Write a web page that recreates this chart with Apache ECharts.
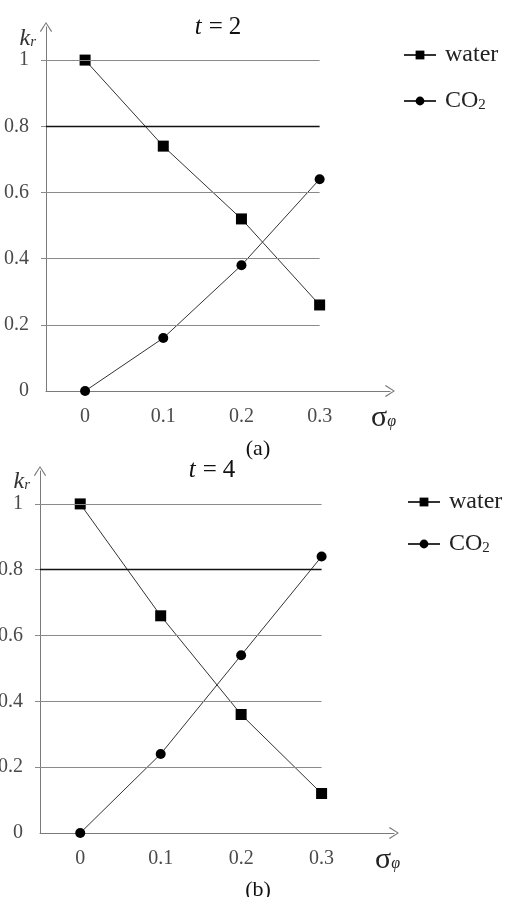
<!DOCTYPE html>
<html>
<head>
<meta charset="utf-8">
<script src="https://cdn.jsdelivr.net/npm/echarts@6/dist/echarts.min.js"></script>
<style>
  html, body { margin: 0; padding: 0; background: #fff; }
  #chart { width: 511px; height: 897px; }
</style>
</head>
<body>
<div id="chart"></div>
<script>
// x positions (sigma_phi) and tick labels
const xValues = [0, 0.1, 0.2, 0.3];
const yTicks = [0, 0.2, 0.4, 0.6, 0.8, 1];

// (a) t = 2
const waterA = [1, 0.74, 0.52, 0.26];
const co2A = [0, 0.16, 0.38, 0.64];
// (b) t = 4
const waterB = [1, 0.66, 0.36, 0.12];
const co2B = [0, 0.24, 0.54, 0.84];

const seriesNames = ['water', 'CO2'];
const panelTitles = ['2', '4'];
const panelCaptions = ['(a)', '(b)'];

const serif = 'Liberation Serif';
const xMin = -0.05, xMax = 0.39, yMax = 1.1;
const chevron = 'path://M6,0 L12,9 L11,9.8 L6,1.8 L1,9.8 L0,9 Z';

const toPoints = (ys) => xValues.map((x, i) => [x, ys[i]]);

const gridLines = yTicks.filter((v) => v > 0).map((v) => [
  { coord: [xMin, v], lineStyle: { color: v === 0.8 ? '#111' : '#8a8a8a', width: v === 0.8 ? 1.3 : 1 } },
  { coord: [xValues[xValues.length - 1], v] },
]);

const makeX = (gridIndex) => ({
  type: 'value', gridIndex, min: xMin, max: xMax,
  splitLine: { show: false },
  axisTick: { show: false },
  axisLine: { onZero: false, symbol: ['none', chevron], symbolSize: [13, 10], lineStyle: { color: '#7a7a7a', width: 1 } },
  axisLabel: {
    customValues: xValues, margin: 16, color: '#4a4a4a',
    fontFamily: serif, fontSize: 20, formatter: (v) => String(v),
  },
  name: '{s|σ}{p|φ}', nameLocation: 'end', nameGap: 6,
  nameTextStyle: {
    align: 'right', verticalAlign: 'top', padding: [15, 0, 0, 0],
    rich: {
      s: { fontFamily: serif, fontSize: 30, color: '#222', lineHeight: 24, verticalAlign: 'middle' },
      p: { fontFamily: serif, fontSize: 16, fontStyle: 'italic', color: '#222', lineHeight: 24, verticalAlign: 'bottom' },
    },
  },
});

const makeY = (gridIndex) => ({
  type: 'value', gridIndex, min: 0, max: yMax,
  splitLine: { show: false },
  axisTick: { show: true, customValues: yTicks.filter((v) => v > 0), length: 5, lineStyle: { color: '#8a8a8a' } },
  axisLine: { show: true, onZero: false, symbol: ['none', chevron], symbolSize: [13, 10], lineStyle: { color: '#7a7a7a', width: 1 } },
  axisLabel: {
    customValues: yTicks, margin: 17, color: '#4a4a4a',
    fontFamily: serif, fontSize: 20, formatter: (v) => String(v),
  },
  name: '{k|k}{r|r}', nameLocation: 'end', nameGap: 0,
  nameTextStyle: {
    align: 'right', verticalAlign: 'top', padding: [1, 10, 0, 0],
    rich: {
      k: { fontFamily: serif, fontSize: 24, fontStyle: 'italic', color: '#333', lineHeight: 22, verticalAlign: 'middle' },
      r: { fontFamily: serif, fontSize: 15, fontStyle: 'italic', color: '#333', lineHeight: 22, verticalAlign: 'bottom' },
    },
  },
});

const makeSeries = (idx, water, co2) => [
  {
    name: seriesNames[0], type: 'line', xAxisIndex: idx, yAxisIndex: idx,
    data: toPoints(water), symbol: 'rect', symbolSize: 11,
    itemStyle: { color: '#000' }, lineStyle: { color: '#333', width: 1 },
    markLine: { silent: true, symbol: 'none', label: { show: false }, lineStyle: { type: 'solid' }, data: gridLines },
    z: 3,
  },
  {
    name: seriesNames[1], type: 'line', xAxisIndex: idx, yAxisIndex: idx,
    data: toPoints(co2), symbol: 'circle', symbolSize: 10,
    itemStyle: { color: '#000' }, lineStyle: { color: '#333', width: 1 },
    z: 3,
  },
];

const legendFormatter = (name) => name === 'CO2' ? '{m|CO}{s|2}' : '{m|' + name + '}';
const legendRich = {
  m: { fontFamily: serif, fontSize: 24, color: '#222', lineHeight: 24, verticalAlign: 'middle' },
  s: { fontFamily: serif, fontSize: 15, color: '#222', lineHeight: 24, verticalAlign: 'bottom' },
};
const makeLegend = (left, top, gap) => ({
  data: seriesNames, orient: 'vertical', left, top, itemGap: gap, padding: 0,
  itemWidth: 32, itemHeight: 11, selectedMode: false,
  formatter: legendFormatter,
  textStyle: { padding: [0, 0, 0, 4], rich: legendRich },
});

const titleRich = {
  i: { fontFamily: serif, fontSize: 25, fontStyle: 'italic', fontWeight: 'normal', color: '#111' },
  e: { fontFamily: serif, fontSize: 25, fontWeight: 'normal', color: '#111', padding: [0, 6, 0, 7] },
  n: { fontFamily: serif, fontSize: 25, fontWeight: 'normal', color: '#111' },
};
const titleText = (t) => '{i|t}{e|=}{n|' + t + '}';
const captionStyle = { fontFamily: serif, fontSize: 22, fontWeight: 'normal', color: '#111' };

const chart = echarts.init(document.getElementById('chart'));
chart.setOption({
  animation: false,
  backgroundColor: '#fff',
  title: [
    { text: titleText(panelTitles[0]), left: 213, top: 10, textAlign: 'center', textStyle: { rich: titleRich } },
    { text: panelCaptions[0], left: 253, top: 433, textAlign: 'center', textStyle: captionStyle },
    { text: titleText(panelTitles[1]), left: 207, top: 453, textAlign: 'center', textStyle: { rich: titleRich } },
    { text: panelCaptions[1], left: 253, top: 874, textAlign: 'center', textStyle: captionStyle },
  ],
  legend: [makeLegend(403, 43, 22), makeLegend(407, 490, 18)],
  grid: [
    { left: 46, top: 27, width: 344, height: 364, outerBoundsMode: 'none' },
    { left: 40, top: 471, width: 354, height: 362, outerBoundsMode: 'none' },
  ],
  xAxis: [makeX(0), makeX(1)],
  yAxis: [makeY(0), makeY(1)],
  series: [...makeSeries(0, waterA, co2A), ...makeSeries(1, waterB, co2B)],
});
</script>
</body>
</html>
